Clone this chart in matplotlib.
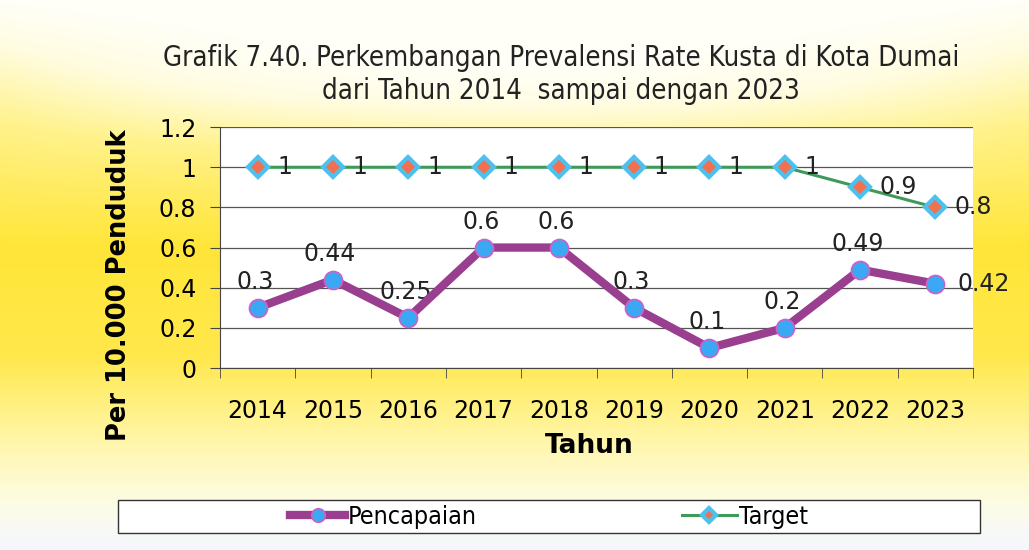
import numpy as np
import matplotlib.pyplot as plt
from matplotlib.colors import LinearSegmentedColormap
from matplotlib.patches import Rectangle

years = ['2014', '2015', '2016', '2017', '2018', '2019', '2020', '2021', '2022', '2023']
pencapaian = [0.3, 0.44, 0.25, 0.6, 0.6, 0.3, 0.1, 0.2, 0.49, 0.42]
target = [1, 1, 1, 1, 1, 1, 1, 1, 0.9, 0.8]
pencapaian_lbl = ['0.3', '0.44', '0.25', '0.6', '0.6', '0.3', '0.1', '0.2', '0.49', '0.42']
target_lbl = ['1', '1', '1', '1', '1', '1', '1', '1', '0.9', '0.8']

fig = plt.figure(figsize=(10.29, 5.5), dpi=100)

# background gradient
bg = fig.add_axes([0, 0, 1, 1], zorder=-10)
bg.set_axis_off()
cmap = LinearSegmentedColormap.from_list('bg', [
    (0.00, (1.0, 1.0, 0.97)),
    (0.08, (1.0, 0.99, 0.88)),
    (0.22, (1.0, 0.95, 0.55)),
    (0.45, (1.0, 0.90, 0.22)),
    (0.65, (1.0, 0.91, 0.30)),
    (0.82, (1.0, 0.97, 0.70)),
    (0.92, (0.99, 0.99, 0.90)),
    (1.00, (0.96, 0.97, 1.0)),
])
yy = np.linspace(0, 1, 300)[:, None]
xx = np.linspace(-1, 1, 400)[None, :]
grad = yy - 0.12 * (1 - xx ** 2) * np.exp(-((yy - 0.15) / 0.15) ** 2)
bg.imshow(np.clip(grad, 0, 1), cmap=cmap, aspect='auto', extent=[0, 1, 0, 1], origin='upper', vmin=0, vmax=1)
bg.set_xlim(0, 1)
bg.set_ylim(0, 1)

ax = fig.add_axes([0.2138, 0.3309, 0.7318, 0.438])
ax.set_facecolor('white')
x = np.arange(len(years))

ax.plot(x, pencapaian, color='#9a3f8f', lw=6, marker='o', ms=13,
        mfc='#3aa8f2', mec='#d060c8', mew=1.2, label='Pencapaian', zorder=4)
ax.plot(x, target, color='#3f9a5a', lw=2.2, marker='D', ms=10,
        mfc='#f07050', mec='#4cc0ee', mew=3, label='Target', zorder=3)

for i, v in enumerate(pencapaian):
    if i == len(pencapaian) - 1:
        ax.annotate(pencapaian_lbl[i], (x[i], v), xytext=(16, 0), textcoords='offset points',
                    ha='left', va='center', fontsize=17, color='#222222')
    else:
        ax.annotate(pencapaian_lbl[i], (x[i], v), xytext=(-2, 10), textcoords='offset points',
                    ha='center', va='bottom', fontsize=17, color='#222222')
for i, v in enumerate(target):
    ax.annotate(target_lbl[i], (x[i], v), xytext=(14, 0), textcoords='offset points',
                ha='left', va='center', fontsize=17, color='#222222')

ax.set_xlim(-0.5, len(years) - 0.5)
ax.set_ylim(0, 1.2)
ax.set_yticks(np.arange(0, 1.21, 0.2))
ax.set_yticklabels(['0', '0.2', '0.4', '0.6', '0.8', '1', '1.2'])
ax.set_xticks(x)
ax.set_xticklabels(years)
ax.set_xticks(np.arange(-0.5, len(years), 1), minor=True)
ax.tick_params(axis='x', which='major', length=0, pad=22, labelsize=17)
ax.tick_params(axis='x', which='minor', length=7, direction='out', color='#444444')
ax.tick_params(axis='y', length=7, direction='out', color='#444444', pad=10, labelsize=17)
ax.yaxis.grid(True, color='#555555', lw=0.9)
ax.set_axisbelow(True)
for s in ['top', 'right']:
    ax.spines[s].set_visible(False)
for s in ['left', 'bottom']:
    ax.spines[s].set_color('#444444')

ax.set_ylabel('Per 10.000 Penduduk', fontsize=18.5, fontweight='bold')
ax.yaxis.set_label_coords(-0.117, 0.344)
ax.set_xlabel('Tahun', fontsize=19, fontweight='bold')
ax.xaxis.set_label_coords(0.491, -0.27)

fig.text(0.545, 0.865, 'Grafik 7.40. Perkembangan Prevalensi Rate Kusta di Kota Dumai\ndari Tahun 2014  sampai dengan 2023',
         ha='center', va='center', fontsize=19.8, fontstretch='condensed', linespacing=1.25,
         color='#222222')

# legend frame
fig.patches.append(Rectangle((0.1147, 0.0309), 0.8377, 0.06, transform=fig.transFigure,
                             facecolor='white', edgecolor='#333333', lw=1.0, zorder=1))
leg = fig.legend(loc='center', bbox_to_anchor=(0.534, 0.0609), ncol=2,
                 prop={'size': 18, 'stretch': 'condensed'}, frameon=False, markerscale=0.75,
                 handlelength=2.2, handletextpad=0.1, columnspacing=8.2, borderpad=0)

fig.savefig('out.png', dpi=100)
